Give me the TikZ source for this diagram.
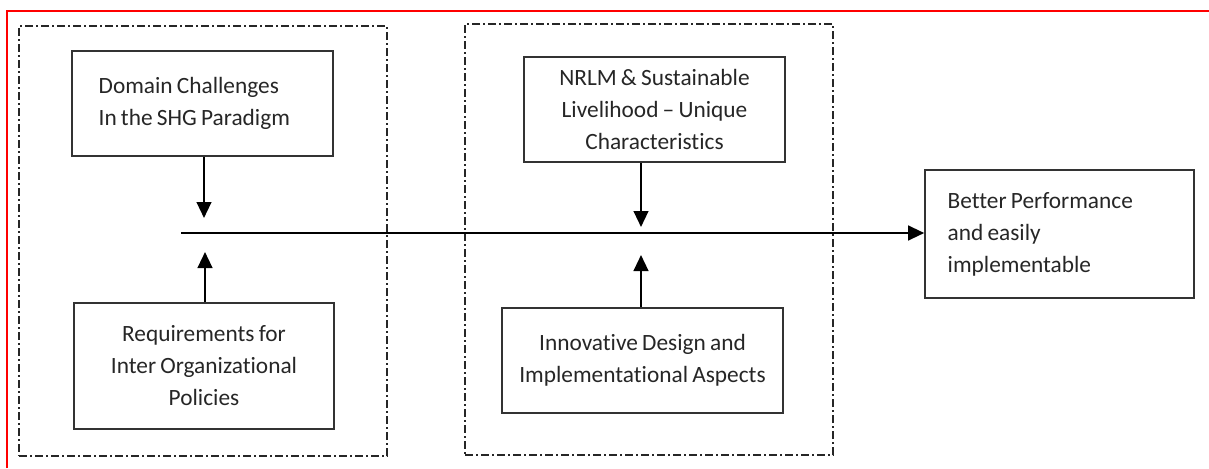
\documentclass[tikz,border=0pt]{standalone}
\usepackage{fontspec}
\setmainfont{Carlito}[Ligatures=NoCommon,WordSpace=0.8]
\usetikzlibrary{arrows.meta,positioning}

\begin{document}
\begin{tikzpicture}[x=0.75pt,y=-0.75pt,
    blk/.style={draw=black!80,line width=1.2pt,font=\fontsize{17.5}{24}\selectfont,text=black!85,align=flush center},
    grp/.style={draw=black!85,line width=0.9pt,dash pattern=on 6pt off 2.5pt on 1pt off 2.5pt,minimum width=276pt},
    arr/.style={line width=1.7pt,-{Triangle[length=12pt,width=11pt]}}]

    % Fix the page size
    \useasboundingbox (0,0) rectangle (1209,468);

    % Draw red frame
    \draw[red,line width=1.5pt] (7,468) -- (7,11) -- (1209,11);

    % Draw groups
    \node[grp,minimum height=322.5pt] (grpL) at (203,241) {};
    \node[grp,minimum height=323.25pt] (grpM) at (649,239.5) {};

    % Draw boxes
    \node[blk,align=flush left,inner xsep=20pt,text width=155.75pt,minimum height=78.75pt] (chal) at (202.5,103.5)
        {Domain Challenges\\In the SHG Paradigm};
    \node[blk,minimum width=195pt,minimum height=94.5pt] (reqs) at (204,366)
        {Requirements for\\Inter Organizational\\Policies};
    \node[blk,minimum width=195.75pt,minimum height=78.75pt] (nrlm) at (654.5,109.5)
        {NRLM \& Sustainable\\Livelihood -- Unique\\Characteristics};
    \node[blk,minimum width=210.75pt,minimum height=78.75pt] (innov) at (642.5,360.5)
        {Innovative Design and\\Implementational Aspects};
    \node[blk,align=flush left,inner xsep=17pt,text width=167.75pt,minimum height=96pt] (perf) at (1059.5,234)
        {Better Performance\\and easily\\implementable};

    % Draw main line
    \coordinate (lineL) at (181,233);
    \draw[arr] (lineL) -- (perf.west |- lineL);

    % Draw arrows into the line
    \coordinate (chalEnd) at (204,218);
    \coordinate (reqsEnd) at (205,252);
    \coordinate (nrlmEnd) at (641,227);
    \coordinate (innovEnd) at (641,255);
    \draw[arr] (chal.south -| chalEnd) -- (chalEnd);
    \draw[arr] (reqs.north -| reqsEnd) -- (reqsEnd);
    \draw[arr] (nrlm.south -| nrlmEnd) -- (nrlmEnd);
    \draw[arr] (innov.north -| innovEnd) -- (innovEnd);
\end{tikzpicture}
\end{document}
